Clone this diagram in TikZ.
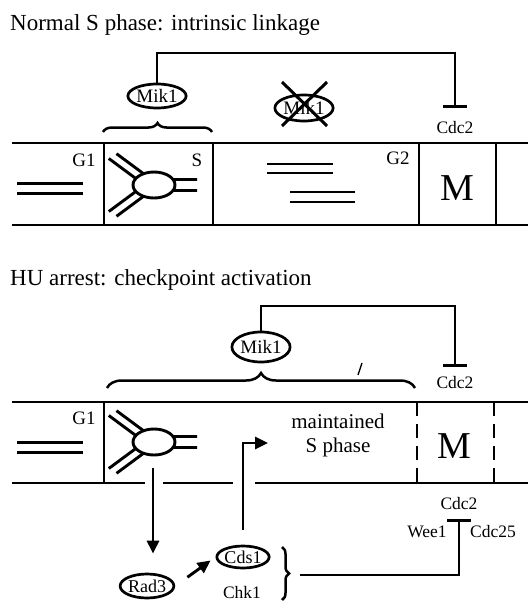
\documentclass[tikz,border=0pt]{standalone}
\usepackage{fontspec}
\setmainfont{Liberation Serif}
\usetikzlibrary{shapes.geometric,arrows.meta,decorations.pathreplacing}
\tikzset{
	x=1pt, y=-1pt,
	>={Triangle[length=13pt,width=12pt]},
	thk/.style={line width=2.9pt},
	dbl/.style={line width=3pt},
	prot/.style={
		ellipse,
		draw,
		line width=2.7pt,
		inner sep=0pt,
		minimum width=50pt,
		minimum height=26pt,
		font=\fontsize{19}{19}\selectfont
	},
	lbl/.style={inner sep=1pt, font=\fontsize{17.5}{17.5}\selectfont},
	phase/.style={inner sep=1pt, font=\fontsize{19}{19}\selectfont},
	bigm/.style={inner sep=1pt, font=\fontsize{38}{38}\selectfont},
	title/.style={anchor=base west, inner sep=0pt, font=\fontsize{23}{23}\selectfont},
	inhib/.style={line width=2.9pt, -{Bar[width=24pt]}},
	act/.style={line width=2.9pt, ->},
	brc/.style={line width=2.5pt, decorate, decoration={brace, amplitude=#1}},
	pics/fork/.style={code={
		\draw[thk] (0,0) ellipse [x radius=21pt, y radius=13pt];
		\draw[thk] (19,-5.5) -- (43,-5.5) (19,5.5) -- (43,5.5)
			(-10.5,-11.3) -- ++(-27,-20) (-18.2,-6.5) -- ++(-27,-20)
			(-10.5,11.3) -- ++(-27,20) (-18.2,6.5) -- ++(-27,20);
	}}
}

\begin{document}
\begin{tikzpicture}
	\useasboundingbox (0,0) rectangle (528,605);

	% normal S phase
	\node[title] (tnorm) at (10,30) {Normal S phase: intrinsic linkage};
	\node[prot, minimum height=24pt] (mik1a) at (157,96) {Mik1};
	\node[prot] (mik1x) at (304,108) {Mik1};
	\draw[dbl] ([shift={(-22,-26)}]mik1x.center) -- ([shift={(23,18)}]mik1x.center)
		([shift={(23,-26)}]mik1x.center) -- ([shift={(-22,18)}]mik1x.center);
	\node[lbl] (cdc2a) at (455,128) {Cdc2};
	\coordinate (knee1) at (455,53);
	\draw[inhib] (mik1a.north) |- (knee1) -- ([yshift=13pt]cdc2a.north);
	\draw[brc=9pt] (103,132) -- (212,132);

	\draw[thk] (12,143) -- (528,143) (12,225) -- (528,225);
	\draw[thk] (104,143) -- (104,225) (213,143) -- (213,225)
		(419,143) -- (419,225) (496,143) -- (496,225);
	\node[phase] (g1a) at (84,160) {G1};
	\node[phase] (sa) at (197,160) {S};
	\node[phase] (g2a) at (398,158) {G2};
	\node[bigm] (ma) at (457,188) {M};
	\draw[dbl] (17,183) -- (83,183) (17,193) -- (83,193);
	\pic at (154,185) {fork};
	\draw[thk] (267,164) -- (333,164) (267,173) -- (333,173)
		(290,192) -- (355,192) (290,202) -- (355,202);

	% HU arrest
	\node[title] (thu) at (10,285) {HU arrest: checkpoint activation};
	\node[prot, minimum width=52pt, minimum height=30pt] (mik1b) at (261,347) {Mik1};
	\node[lbl] (cdc2b) at (455,383) {Cdc2};
	\coordinate (knee2) at (455,306);
	\draw[inhib] (mik1b.north) |- (knee2) -- ([yshift=9pt]cdc2b.north);
	\draw[brc=15pt] (107,388) -- (415,388);
	\draw[line width=1.3pt] (362,363) -- (358,375);

	\draw[thk] (12,402) -- (528,402);
	\draw[thk] (12,483) -- (145,483) (163,483) -- (233,483) (255,483) -- (528,483);
	\draw[thk] (104,402) -- (104,483);
	\draw[thk, dash pattern=on 14pt off 8pt] (417,402) -- (417,483) (494,402) -- (494,483);
	\node[phase] (g1b) at (84,418) {G1};
	\node[bigm] (mb) at (454,446) {M};
	\draw[dbl] (17,442) -- (83,442) (17,452) -- (83,452);
	\pic at (154,442) {fork};
	\node[align=center, inner sep=1pt, font=\fontsize{21}{24}\selectfont] (maint) at (338,435) {maintained\\S phase};

	\node[prot, minimum width=46pt, minimum height=24pt, font=\fontsize{18}{18}\selectfont] (rad3) at (147,586) {Rad3};
	\node[prot, minimum height=22pt, font=\fontsize{18}{18}\selectfont] (cds1) at (243,557) {Cds1};
	\node[lbl] (chk1) at (242,593) {Chk1};
	\coordinate (dn) at (153,468);
	\coordinate (sp) at (268,443);
	\draw[act, shorten >=19pt] (dn) -- (dn |- rad3.north);
	\draw[act, shorten <=15pt, shorten >=6pt] (rad3.east) -- (cds1.west);
	\draw[act] ([yshift=15pt]cds1.north) |- (sp);

	\draw[brc=7pt] (282,547) -- (282,600);
	\node[lbl] (cdc2c) at (459,504) {Cdc2};
	\node[lbl] (wee1) at (427,532) {Wee1};
	\node[lbl] (cdc25) at (493,532) {Cdc25};
	\coordinate (chkb) at (300,575);
	\draw[inhib] (chkb) -| ([yshift=-8pt]cdc2c.south);
\end{tikzpicture}
\end{document}
